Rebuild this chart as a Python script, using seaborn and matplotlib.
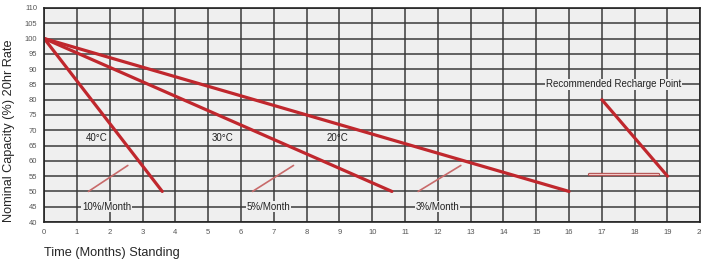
import pandas as pd
import matplotlib.pyplot as plt
import seaborn as sns
from matplotlib.ticker import MultipleLocator

# self-discharge lines, all start at 100% and stop at 50%
temps = ['40°C', '30°C', '20°C']
end_months = [3.6, 10.6, 16.0]
start_cap = 100
end_cap = 50

# temperature label positions (month, capacity)
temp_label_x = [1.6, 5.45, 8.95]
temp_label_y = [67.5, 67.5, 67.5]

# rate labels and their little pointer lines
rates = ['10%/Month', '5%/Month', '3%/Month']
rate_label_x = [1.9, 6.85, 12.0]
rate_label_y = [45, 45, 45]
pointer_x0 = [1.35, 6.35, 11.4]
pointer_y0 = [50, 50, 50]
pointer_x1 = [2.55, 7.6, 12.7]
pointer_y1 = [58.5, 58.5, 58.5]

# recommended recharge point
recharge_x = [17, 19]
recharge_y = [80, 55]
recharge_arrow_x = [16.6, 18.7]
recharge_arrow_y = [55.6, 55.6]

rows = []
for t, e in zip(temps, end_months):
    rows.append({'temp': t, 'month': 0, 'cap': start_cap})
    rows.append({'temp': t, 'month': e, 'cap': end_cap})
df = pd.DataFrame(rows)

sns.set_style('white', {'axes.facecolor': '#efefef'})
plt.rcParams['font.family'] = ['Liberation Sans', 'DejaVu Sans']

fig = plt.figure(figsize=(7.01, 2.64), dpi=100)
ax = fig.add_axes([0.063, 0.159, 0.936, 0.811])

red = '#c0272d'
sns.lineplot(data=df, x='month', y='cap', units='temp', estimator=None,
             color=red, lw=2.3, ax=ax, legend=False)
sns.lineplot(x=recharge_x, y=recharge_y, color=red, lw=2.3, ax=ax)

for x0, y0, x1, y1 in zip(pointer_x0, pointer_y0, pointer_x1, pointer_y1):
    ax.plot([x0, x1], [y0, y1], color='#c86a6a', lw=1.2)
ax.plot(recharge_arrow_x, recharge_arrow_y, color='#b04848', lw=2.4)
ax.plot(recharge_arrow_x, recharge_arrow_y, color='#f2c8c8', lw=0.9)

for t, x, y in zip(temps, temp_label_x, temp_label_y):
    ax.text(x, y, t, ha='center', va='center', fontsize=7, color='#222')
for r, x, y in zip(rates, rate_label_x, rate_label_y):
    ax.text(x, y, r, ha='center', va='center', fontsize=7, color='#222',
            bbox=dict(facecolor='#efefef', edgecolor='none', pad=0.5))
ax.text(17.35, 85, 'Recommended Recharge Point', ha='center', va='center',
        fontsize=7, color='#222',
        bbox=dict(facecolor='#efefef', edgecolor='none', pad=0.5))

ax.set_xlim(0, 20)
ax.set_ylim(40, 110)
ax.xaxis.set_major_locator(MultipleLocator(1))
ax.xaxis.set_minor_locator(MultipleLocator(0.5))
ax.yaxis.set_major_locator(MultipleLocator(5))
ax.yaxis.set_minor_locator(MultipleLocator(2.5))
ax.grid(True, which='major', color='#3a3a3a', lw=1.1)
ax.set_axisbelow(True)
ax.tick_params(which='major', length=0, labelsize=5.5, labelcolor='#555', pad=5)
ax.tick_params(which='minor', direction='in', length=4, color='#333', width=1)
for s in ax.spines.values():
    s.set_color('#222')
    s.set_linewidth(1.2)

ax.set_xlabel('Time (Months) Standing', fontsize=9.2, loc='left', labelpad=8)
ax.set_ylabel('Nominal Capacity (%) 20hr Rate', fontsize=9.2)
ax.yaxis.set_label_coords(-0.044, 0.425)

fig.savefig('out.png', dpi=100)
